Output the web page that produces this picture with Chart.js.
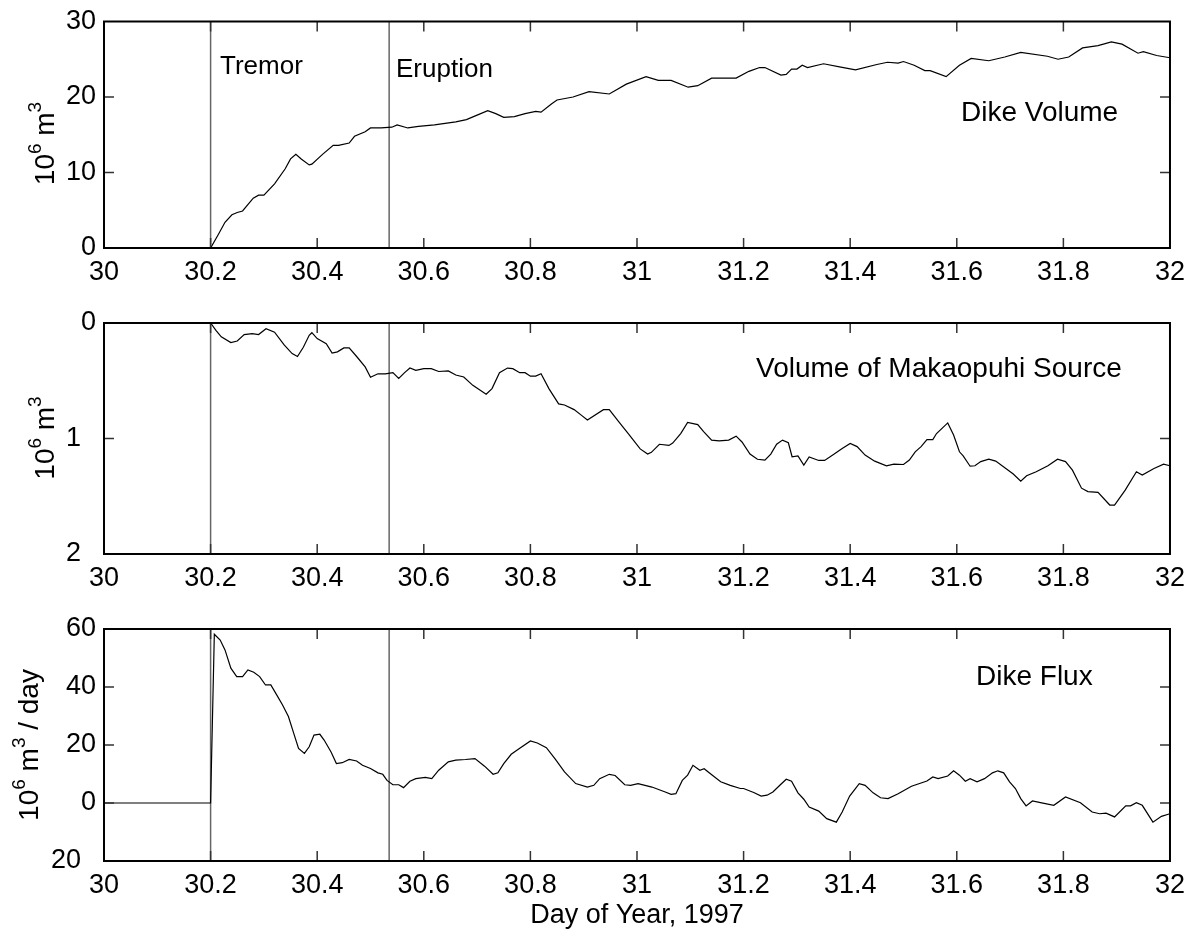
<!DOCTYPE html>
<html>
<head>
<meta charset="utf-8">
<title>Dike volume, Makaopuhi source and dike flux</title>
<script src="https://cdn.jsdelivr.net/npm/chart.js@4.4.1/dist/chart.umd.min.js"></script>
<style>
  body { margin: 0; background: #fff; }
  #wrap { position: relative; width: 1196px; height: 936px; }
  .panel { position: absolute; left: 0; width: 1196px; }
</style>
</head>
<body>
<div id="wrap">
  <div class="panel" style="top:0;height:300px"><canvas id="volume-chart"></canvas></div>
  <div class="panel" style="top:300px;height:305px"><canvas id="source-chart"></canvas></div>
  <div class="panel" style="top:605px;height:331px"><canvas id="flux-chart"></canvas></div>
</div>
<script>
/* ---------- data (day of year 1997) ---------- */
const eventDays = [30.2, 30.535];          // tremor onset, eruption

const dikeDays = [30, 30.2, 30.215, 30.227, 30.24, 30.25, 30.26, 30.28, 30.29, 30.30,
  30.32, 30.34, 30.35, 30.36, 30.37, 30.385, 30.39, 30.41, 30.43, 30.44,
  30.46, 30.47, 30.49, 30.50, 30.52, 30.54, 30.55, 30.57, 30.59, 30.62,
  30.64, 30.66, 30.68, 30.70, 30.72, 30.735, 30.75, 30.77, 30.79, 30.81,
  30.82, 30.84, 30.85, 30.88, 30.91, 30.948, 30.98, 31.017, 31.04, 31.064,
  31.096, 31.114, 31.14, 31.186, 31.21, 31.23, 31.24, 31.27, 31.28, 31.29,
  31.30, 31.31, 31.32, 31.35, 31.38, 31.41, 31.45, 31.47, 31.49, 31.50,
  31.52, 31.54, 31.55, 31.58, 31.605, 31.627, 31.66, 31.69, 31.72, 31.77,
  31.79, 31.81, 31.836, 31.865, 31.89, 31.91, 31.94, 31.95, 31.975, 32.0];
const dikeVolume = [0, 0, 1.85, 3.4, 4.4, 4.7, 4.9, 6.6, 7.0, 7.0,
  8.5, 10.5, 11.8, 12.4, 11.8, 11.0, 11.1, 12.4, 13.6, 13.6,
  13.9, 14.8, 15.4, 15.9, 15.9, 16.0, 16.3, 15.9, 16.1, 16.3,
  16.5, 16.7, 17.0, 17.6, 18.2, 17.8, 17.3, 17.4, 17.8, 18.1,
  18.0, 19.1, 19.6, 20.0, 20.7, 20.4, 21.7, 22.7, 22.2, 22.2,
  21.3, 21.5, 22.5, 22.5, 23.4, 23.9, 23.9, 22.9, 23.0, 23.7,
  23.7, 24.2, 23.9, 24.4, 24.0, 23.6, 24.3, 24.6, 24.5, 24.7,
  24.2, 23.5, 23.5, 22.7, 24.2, 25.1, 24.8, 25.3, 25.9, 25.4,
  25.0, 25.3, 26.5, 26.8, 27.3, 27.0, 25.8, 26.0, 25.5, 25.2];

const sourceDays = [30, 30.2, 30.21, 30.22, 30.238, 30.25, 30.263, 30.278, 30.29, 30.304,
  30.32, 30.338, 30.353, 30.363, 30.374, 30.385, 30.39, 30.40, 30.417, 30.428,
  30.438, 30.45, 30.46, 30.474, 30.49, 30.50, 30.514, 30.528, 30.542, 30.553,
  30.564, 30.574, 30.585, 30.60, 30.614, 30.628, 30.646, 30.66, 30.675, 30.692,
  30.717, 30.728, 30.742, 30.757, 30.767, 30.78, 30.79, 30.80, 30.81, 30.82,
  30.835, 30.853, 30.864, 30.882, 30.896, 30.907, 30.937, 30.948, 30.966, 30.984,
  31.006, 31.02, 31.027, 31.042, 31.06, 31.067, 31.082, 31.095, 31.114, 31.125,
  31.14, 31.154, 31.172, 31.186, 31.197, 31.212, 31.226, 31.24, 31.251, 31.262,
  31.273, 31.284, 31.291, 31.302, 31.313, 31.323, 31.341, 31.352, 31.37, 31.385,
  31.40, 31.413, 31.428, 31.446, 31.468, 31.482, 31.50, 31.511, 31.522, 31.533,
  31.544, 31.555, 31.562, 31.583, 31.594, 31.605, 31.612, 31.625, 31.634, 31.645,
  31.66, 31.673, 31.692, 31.706, 31.72, 31.731, 31.749, 31.771, 31.789, 31.804,
  31.817, 31.834, 31.846, 31.865, 31.887, 31.896, 31.916, 31.937, 31.948, 31.97,
  31.988, 32.0];
const sourceVolume = [0, 0, 0.063, 0.12, 0.17, 0.156, 0.10, 0.092, 0.10, 0.05,
  0.08, 0.19, 0.265, 0.29, 0.21, 0.107, 0.084, 0.135, 0.18, 0.26,
  0.25, 0.216, 0.216, 0.29, 0.38, 0.47, 0.44, 0.44, 0.43, 0.48,
  0.43, 0.39, 0.41, 0.395, 0.395, 0.42, 0.415, 0.45, 0.467, 0.54,
  0.617, 0.568, 0.43, 0.39, 0.395, 0.43, 0.43, 0.46, 0.46, 0.44,
  0.57, 0.70, 0.71, 0.75, 0.80, 0.84, 0.75, 0.75, 0.856, 0.96,
  1.09, 1.135, 1.12, 1.05, 1.06, 1.04, 0.957, 0.86, 0.88, 0.94,
  1.014, 1.02, 1.014, 0.98, 1.03, 1.135, 1.18, 1.187, 1.135, 1.05,
  1.014, 1.037, 1.158, 1.15, 1.23, 1.16, 1.19, 1.19, 1.135, 1.086,
  1.043, 1.07, 1.144, 1.196, 1.236, 1.222, 1.225, 1.187, 1.115, 1.07,
  1.01, 1.01, 0.957, 0.865, 0.97, 1.115, 1.15, 1.24, 1.236, 1.20,
  1.179, 1.196, 1.26, 1.308, 1.37, 1.323, 1.288, 1.236, 1.179, 1.20,
  1.274, 1.43, 1.46, 1.467, 1.576, 1.576, 1.447, 1.288, 1.317, 1.26,
  1.222, 1.236];

const fluxDays = [30, 30.2, 30.207, 30.218, 30.227, 30.238, 30.249, 30.26, 30.27, 30.281,
  30.292, 30.303, 30.313, 30.324, 30.335, 30.346, 30.356, 30.365, 30.376, 30.385,
  30.394, 30.405, 30.413, 30.426, 30.436, 30.447, 30.46, 30.474, 30.485, 30.50,
  30.514, 30.523, 30.531, 30.542, 30.553, 30.562, 30.574, 30.585, 30.603, 30.615,
  30.628, 30.646, 30.66, 30.678, 30.696, 30.714, 30.73, 30.739, 30.75, 30.764,
  30.778, 30.80, 30.813, 30.83, 30.846, 30.864, 30.885, 30.907, 30.919, 30.93,
  30.948, 30.959, 30.977, 30.988, 31.002, 31.028, 31.053, 31.064, 31.073, 31.085,
  31.095, 31.105, 31.118, 31.126, 31.139, 31.157, 31.175, 31.194, 31.2, 31.219,
  31.233, 31.244, 31.255, 31.269, 31.28, 31.29, 31.302, 31.313, 31.323, 31.341,
  31.356, 31.374, 31.385, 31.399, 31.417, 31.428, 31.443, 31.457, 31.471, 31.49,
  31.515, 31.533, 31.544, 31.555, 31.565, 31.583, 31.594, 31.605, 31.616, 31.625,
  31.638, 31.652, 31.667, 31.677, 31.688, 31.699, 31.71, 31.72, 31.73, 31.742,
  31.757, 31.782, 31.804, 31.832, 31.854, 31.868, 31.88, 31.896, 31.917, 31.926,
  31.937, 31.948, 31.968, 31.984, 32.0];
const dikeFlux = [0, 0, 58.2, 56.2, 52.8, 46.5, 43.6, 43.6, 45.9, 45.1,
  43.6, 40.7, 40.7, 37.3, 33.8, 29.8, 24.0, 18.8, 17.1, 19.4,
  23.4, 23.7, 21.7, 17.6, 13.6, 13.9, 15.0, 14.5, 13.0, 11.9,
  10.4, 9.9, 7.8, 6.3, 6.3, 5.3, 7.5, 8.4, 8.8, 8.4,
  11.3, 14.2, 14.8, 15.0, 15.3, 12.7, 9.9, 10.4, 13.6, 16.8,
  18.6, 21.4, 20.7, 19.1, 15.3, 10.7, 6.7, 5.5, 6.1, 8.4,
  9.9, 9.5, 6.3, 6.1, 6.7, 5.5, 3.8, 3.0, 3.2, 7.8,
  9.6, 13.0, 11.3, 11.8, 9.9, 7.3, 6.1, 5.0, 5.0, 3.6,
  2.4, 2.7, 3.8, 6.3, 8.2, 7.5, 3.5, 1.3, -1.4, -2.8,
  -5.4, -6.6, -3.1, 2.4, 6.7, 6.1, 3.5, 1.8, 1.5, 3.2,
  5.8, 6.9, 7.6, 9.0, 8.4, 9.3, 11.1, 9.6, 7.5, 8.4,
  7.3, 8.4, 10.4, 11.1, 10.4, 7.3, 5.0, 1.5, -1.0, 0.7,
  0.1, -0.8, 2.1, 0.1, -3.1, -3.7, -3.5, -4.8, -1.0, -1.0,
  0.1, -0.8, -6.6, -4.6, -3.7];

/* ---------- look ---------- */
const FONT = '"Liberation Sans", Arial, Helvetica, sans-serif';
Chart.defaults.font.family = FONT;
Chart.defaults.color = '#000';

function series(days, vals) {
    const n = Math.min(days.length, vals.length);
    const pts = [];
    for (let i = 0; i < n; i++) pts.push({ x: days[i], y: vals[i] });
    return pts;
}

// 10^6 m^3 style label, drawn rotated with real superscripts
function drawYTitle(ctx, parts, x, y) {
    ctx.save();
    ctx.translate(x, y);
    ctx.rotate(-Math.PI / 2);
    let total = 0;
    parts.forEach(p => {
        ctx.font = p.size + 'px ' + FONT;
        p.w = ctx.measureText(p.text).width;
        total += p.w;
    });
    let cx = -total / 2;
    ctx.fillStyle = '#000';
    ctx.textAlign = 'left';
    ctx.textBaseline = 'alphabetic';
    parts.forEach(p => {
        ctx.font = p.size + 'px ' + FONT;
        ctx.fillText(p.text, cx, -p.rise);
        cx += p.w;
    });
    ctx.restore();
}

/* MATLAB-like frame: event lines, inward ticks, box, notes */
const framePlugin = {
    id: 'frame',
    beforeDatasetsDraw(chart) {
        const { ctx, chartArea: a, scales: { x } } = chart;
        ctx.save();
        ctx.strokeStyle = '#666';
        ctx.lineWidth = 1.5;
        eventDays.forEach(d => {
            const px = x.getPixelForValue(d);
            ctx.beginPath();
            ctx.moveTo(px, a.top);
            ctx.lineTo(px, a.bottom);
            ctx.stroke();
        });
        ctx.restore();
    },
    afterDraw(chart, args, opts) {
        const { ctx, chartArea: a, scales: { x, y } } = chart;
        ctx.save();
        ctx.strokeStyle = '#333';
        ctx.lineWidth = 1.5;
        const tl = 10;
        x.ticks.forEach(t => {
            const px = x.getPixelForValue(t.value);
            if (px <= a.left + 1 || px >= a.right - 1) return;
            ctx.beginPath();
            ctx.moveTo(px, a.bottom); ctx.lineTo(px, a.bottom - tl);
            ctx.moveTo(px, a.top); ctx.lineTo(px, a.top + tl);
            ctx.stroke();
        });
        y.ticks.forEach(t => {
            const py = y.getPixelForValue(t.value);
            if (py <= a.top + 1 || py >= a.bottom - 1) return;
            ctx.beginPath();
            ctx.moveTo(a.left, py); ctx.lineTo(a.left + tl, py);
            ctx.moveTo(a.right, py); ctx.lineTo(a.right - tl, py);
            ctx.stroke();
        });
        ctx.strokeStyle = '#000';
        ctx.lineWidth = 2;
        ctx.strokeRect(a.left, a.top, a.right - a.left, a.bottom - a.top);

        ctx.fillStyle = '#000';
        ctx.textAlign = 'left';
        ctx.textBaseline = 'alphabetic';
        (opts.notes || []).forEach(n => {
            ctx.font = n.size + 'px ' + FONT;
            ctx.fillText(n.text, a.left + n.dx, a.top + n.dy);
        });
        ctx.restore();

        if (opts.yTitle) {
            drawYTitle(ctx, opts.yTitle.parts, opts.yTitle.x, a.top + opts.yTitle.dy);
        }
    }
};

const unitParts = () => [
    { text: '10', size: 28, rise: 0 },
    { text: '6', size: 19, rise: 13 },
    { text: ' m', size: 28, rise: 0 },
    { text: '3', size: 19, rise: 13 }
];

function makePanel(id, cfg) {
    return new Chart(document.getElementById(id), {
        type: 'line',
        data: {
            datasets: [{
                data: series(cfg.days, cfg.vals),
                borderColor: '#000',
                borderWidth: 1.2,
                pointRadius: 0,
                tension: 0,
                fill: false
            }]
        },
        options: {
            responsive: true,
            maintainAspectRatio: false,
            animation: false,
            events: [],
            layout: { padding: { top: cfg.padTop, right: 22, bottom: 0, left: 0 } },
            scales: {
                x: {
                    type: 'linear',
                    min: 30,
                    max: 32,
                    afterFit: s => { s.height = cfg.xHeight; },
                    grid: { display: false, drawTicks: false },
                    border: { display: false },
                    ticks: {
                        stepSize: 0.2,
                        autoSkip: false,
                        maxRotation: 0,
                        padding: 11,
                        color: '#000',
                        font: { size: 27, lineHeight: 1 },
                        callback: v => String(Math.round(v * 10) / 10)
                    },
                    title: cfg.xTitle ? {
                        display: true,
                        text: cfg.xTitle,
                        color: '#000',
                        font: { size: 27, lineHeight: 1 },
                        padding: { top: 0, bottom: 7 }
                    } : { display: false }
                },
                y: {
                    type: 'linear',
                    min: cfg.yMin,
                    max: cfg.yMax,
                    reverse: !!cfg.reverse,
                    afterFit: s => { s.width = 104; },
                    grid: { display: false, drawTicks: false },
                    border: { display: false },
                    ticks: {
                        stepSize: cfg.yStep,
                        padding: 8,
                        color: '#000',
                        font: { size: 27, lineHeight: 1 },
                        callback: cfg.yLabel
                    }
                }
            },
            plugins: {
                legend: { display: false },
                tooltip: { enabled: false },
                frame: { notes: cfg.notes, yTitle: cfg.yTitle }
            }
        },
        plugins: [framePlugin]
    });
}

document.addEventListener('DOMContentLoaded', function() {

    makePanel('volume-chart', {
        days: dikeDays, vals: dikeVolume,
        padTop: 16, xHeight: 52,
        yMin: 0, yMax: 30, yStep: 10,
        yLabel: v => String(v),
        notes: [
            { text: 'Tremor', dx: 116, dy: 52, size: 26 },
            { text: 'Eruption', dx: 292, dy: 55, size: 26 },
            { text: 'Dike Volume', dx: 857, dy: 99, size: 28 }
        ],
        yTitle: { parts: unitParts(), x: 54, dy: 122 }
    });

    makePanel('source-chart', {
        days: sourceDays, vals: sourceVolume,
        padTop: 23, xHeight: 51,
        yMin: 0, yMax: 2, yStep: 1, reverse: true,
        // the figure prints these depths shifted left, as if a minus sign was dropped
        yLabel: v => v === 0 ? '0' : String(v) + '\u2007',
        notes: [
            { text: 'Volume of Makaopuhi Source', dx: 652, dy: 54, size: 28 }
        ],
        yTitle: { parts: unitParts(), x: 54, dy: 115 }
    });

    makePanel('flux-chart', {
        days: fluxDays, vals: dikeFlux,
        padTop: 24, xHeight: 75,
        yMin: -20, yMax: 60, yStep: 20,
        yLabel: v => v < 0 ? String(-v) + '\u2007' : String(v),
        xTitle: 'Day of Year, 1997',
        notes: [
            { text: 'Dike Flux', dx: 872, dy: 56, size: 28 }
        ],
        yTitle: { parts: unitParts().concat([{ text: ' / day', size: 28, rise: 0 }]), x: 38, dy: 116 }
    });

});
</script>
</body>
</html>
